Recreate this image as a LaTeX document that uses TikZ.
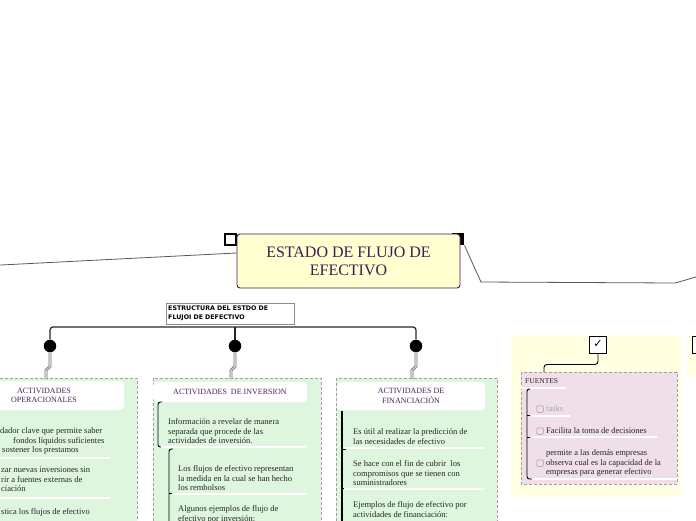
\documentclass[tikz,border=0pt]{standalone}
\usepackage{fontspec}
\setmainfont{Liberation Serif}
\newfontfamily\labelfont{DejaVu Sans}
\newfontfamily\symfont{DejaVu Sans}
\usetikzlibrary{positioning,backgrounds}
\definecolor{rootyellow}{RGB}{255,255,208}
\definecolor{rootpurple}{RGB}{62,28,82}
\definecolor{branchgreen}{RGB}{222,246,222}
\definecolor{notepink}{RGB}{240,223,233}
\definecolor{panelyellow}{RGB}{255,255,226}
\definecolor{headpurple}{RGB}{72,32,96}

\begin{document}
\begin{tikzpicture}[
  x=1pt, y=-1pt,
  font=\fontsize{8.5}{9.5}\selectfont,
  line/.style={draw=black!65, line width=0.8pt},
  busline/.style={draw=black!85, line width=1.2pt, rounded corners=3pt},
  link/.style={draw=black!60, line width=0.6pt, double=gray!45, double distance=1.6pt},
  rootnode/.style={draw=rootpurple, fill=rootyellow, rounded corners=3pt, line width=0.9pt,
    text=rootpurple, font=\fontsize{16}{18}\selectfont, align=center,
    minimum width=223pt, minimum height=54pt, inner sep=0pt},
  handle/.style={draw=black, line width=2.4pt, minimum size=10.5pt, inner sep=0pt},
  tag/.style={draw=black!45, fill=white, font=\labelfont\bfseries\fontsize{6.3}{9}\selectfont,
    align=left, anchor=north west, text width=124pt, minimum height=21pt, inner sep=2pt},
  bullet/.style={circle, fill=black, minimum size=12.5pt, inner sep=0pt},
  branch/.style={draw=gray!75, fill=branchgreen, dash pattern=on 3pt off 2pt, line width=0.6pt},
  sticky/.style={draw=gray!75, fill=notepink, dash pattern=on 3pt off 2pt, line width=0.6pt},
  header/.style={fill=white, rounded corners=4pt, text=headpurple, align=center, inner sep=0pt,
    font=\fontsize{8}{9.5}\selectfont},
  note/.style={align=left, anchor=west, inner sep=0pt, text=black!85},
  divider/.style={draw=white, line width=1.3pt},
  brace/.style={draw=black, line width=0.9pt, rounded corners=2.5pt},
  checkmark/.style={draw=black, line width=0.9pt, fill=white, minimum size=17pt, inner sep=0pt,
    font=\symfont\fontsize{11}{11}\selectfont},
  checkbox/.style={draw=gray!80, rounded corners=1pt, minimum size=6.5pt, inner sep=0pt, line width=0.5pt}
]
\useasboundingbox (0,0) rectangle (696,520);

% Central topic and its outgoing lines.
\coordinate (leftend) at (-5,265.3);
\coordinate (rightend) at (705,274.5);
\node[handle, fill=white] (lhandle) at (230.5,239.5) {};
\node[handle, fill=black] (rhandle) at (458,239) {};
\draw[line] (rhandle.south east) -- (481,282) -- (675,283) -- (rightend);
\node[rootnode] (root) at (348.5,261) {ESTADO DE FLUJO DE\\EFECTIVO};
\draw[line] ([yshift=8pt]root.west) -- (leftend);

% Structure label and bus.
\node[tag] (struct) at (166,303) {ESTRUCTURA DEL ESTDO DE\\FLUJOI DE DEFECTIVO};
\coordinate (busy) at (0,327);

% Branch panels.
\draw[branch] (-60,378) rectangle (137,560);
\draw[branch] (153,378) rectangle (321,560);
\draw[branch] (336,378) rectangle (497,560);

\node[bullet] (dotA) at (50,346) {};
\node[bullet] (dotB) at (235,346) {};
\node[bullet] (dotC) at (416,346) {};
\begin{scope}[on background layer]
\draw[busline] (dotA) |- (dotC |- busy) -- (dotC);
\draw[busline] (dotB) -- (dotB |- busy);
\end{scope}

\coordinate (inA) at (46,379);
\coordinate (inB) at (231,379);
\coordinate (inC) at (412,379);
\draw[link] (dotA.south) -- ++(0,14) -- ++(-4,4) -- (inA);
\draw[link] (dotB.south) -- ++(0,14) -- ++(-4,4) -- (inB);
\draw[link] (dotC.south) -- ++(0,14) -- ++(-4,4) -- (inC);

% Operating activities.
\node[header, minimum width=160pt, minimum height=29pt] (headA) at (44,395.5)
  {ACTIVIDADES\\OPERACIONALES};
\node[note] (opA) at (0,441)
  {dador clave que permite saber\\\hspace*{13pt}fondos líquidos suficientes\\\hspace*{2pt}sostener los prestamos};
\draw[divider] (-40,458) -- (110,458);
\node[note] (opB) at (1,479.5)
  {zar nuevas inversiones sin\\rir a fuentes externas de\\ciación};
\draw[divider] (-40,498) -- (110,498);
\node[note] (opC) at (1,512) {stica los flujos de efectivo};

% Investing activities.
\node[header, minimum width=154pt, minimum height=20pt] (headB) at (230,392)
  {ACTIVIDADES\ \ DE INVERSION};
\draw[brace] (162,402) -| (158,447) -- (164,447);
\node[note] (invA) at (168,431.5)
  {Información a revelar de manera\\separada que procede de las\\actividades de inversión.};
\draw[divider] (161,447) -- (307,447);
\draw[brace] (173,449) -| (169,540);
\draw[brace] (169,493) -- (173,493);
\node[note] (invB) at (178,478.5)
  {Los flujos de efectivo representan\\la medida en la cual se han hecho\\los rembolsos};
\draw[divider] (172,494) -- (307,494);
\node[note] (invC) at (178,514.5) {Algunos ejemplos de flujo de\\efectivo por inversión:};

% Financing activities.
\node[header, minimum width=148pt, minimum height=28pt] (headC) at (411,396)
  {ACTIVIDADES DE\\FINANCIACIÓN};
\draw[brace, line width=1.6pt] (342,411) -- (342,540);
\draw[brace] (342,449) -- (346,449);
\draw[brace] (342,488) -- (346,488);
\node[note] (finA) at (353,436.5)
  {Es útil al realizar la predicción de\\las necesidades de efectivo};
\draw[divider] (344,448) -- (484,448);
\node[note] (finB) at (353,473.5)
  {Se hace con el fin de cubrir\ \ los\\compromisos que se tienen con\\suministradores};
\draw[divider] (344,489) -- (484,489);
\node[note] (finC) at (353,509.5)
  {Ejemplos de flujo de efectivo por\\actividades de financiación:};

% Sources panel.
\fill[panelyellow] (511,335) rectangle (681,497);
\fill[panelyellow] (687,335) rectangle (720,376);
\node[checkmark] (chkA) at (598,344.5) {✓};
\node[checkmark] (chkB) at (700.5,344.5) {};
\draw[sticky] (521,372) rectangle (677,484);
\coordinate (stickytop) at (544,372);
\draw[line, draw=black, line width=0.9pt, rounded corners=3pt]
  (chkA.south) -- ++(0,11) -| (stickytop);

\node[note, font=\fontsize{7.5}{9}\selectfont] (fuentes) at (525,381) {FUENTES};
\draw[divider] (521,388) -- (566,388);
\draw[brace] (530,389) -| (527,479) -- (532,479);
\draw[brace] (527,415) -- (530,415);
\draw[brace] (527,437) -- (530,437);

\node[checkbox] (cbA) at (540,409) {};
\node[note, right=2.5pt of cbA, text=gray!70] (tasks) {tasks};
\draw[divider] (532,416) -- (570,416);
\node[checkbox] (cbB) at (540,431) {};
\node[note, right=2.5pt of cbB] (facil) {Facilita la toma de decisiones};
\draw[divider] (532,437) -- (657,437);
\node[checkbox] (cbC) at (540,463) {};
\node[note, right=2.5pt of cbC] (permite)
  {permite a las demás empresas\\observa cual es la capacidad de la\\empresas para generar efectivo};
\draw[divider] (532,479) -- (677,479);

\end{tikzpicture}
\end{document}
